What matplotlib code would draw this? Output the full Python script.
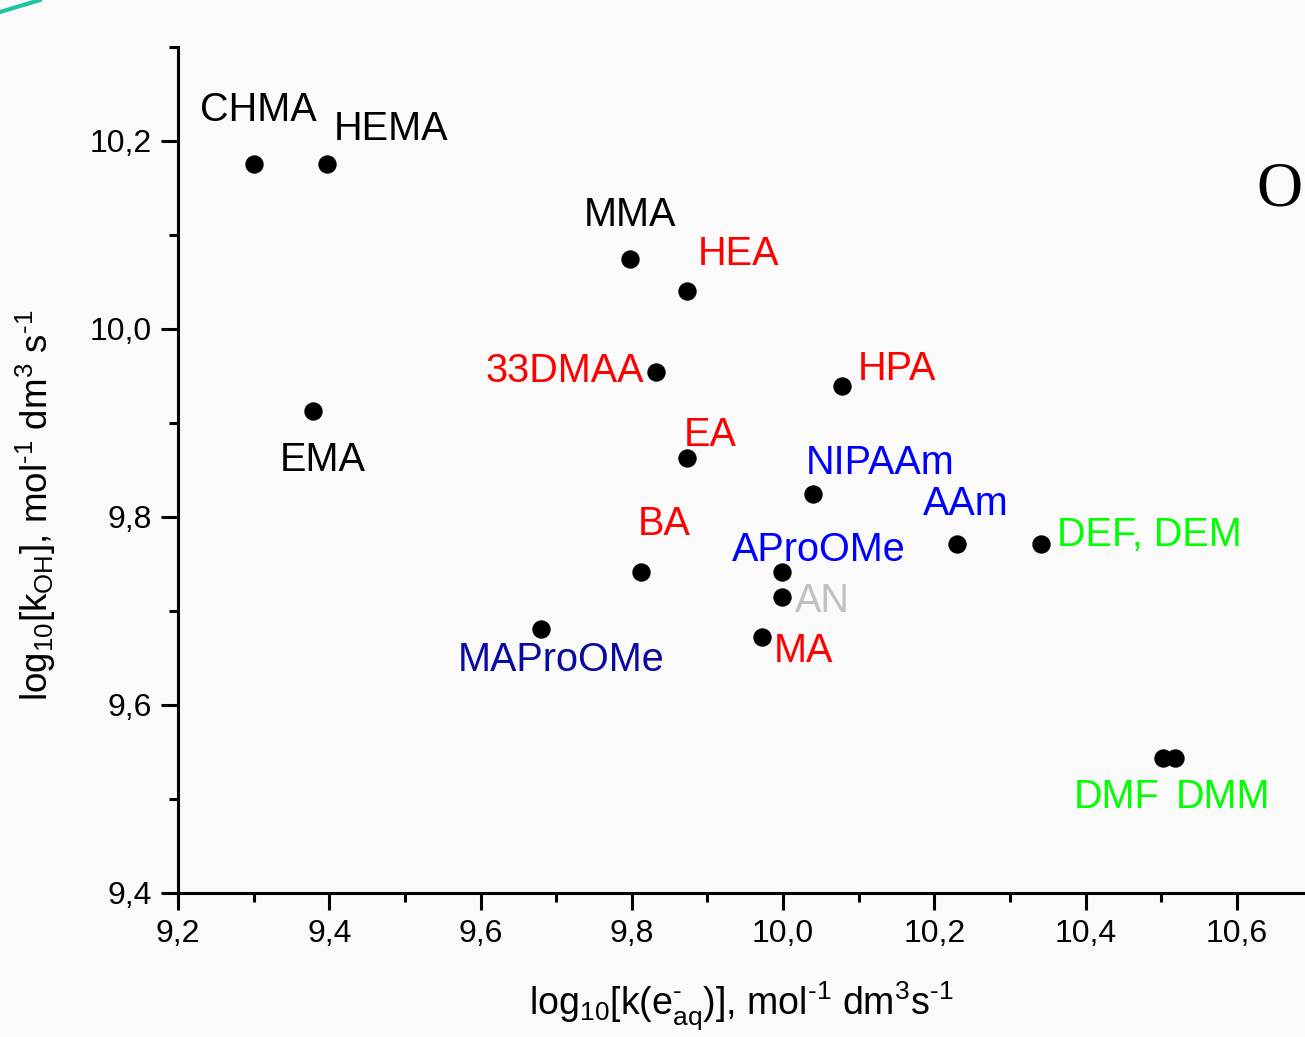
import matplotlib
matplotlib.use('Agg')
import matplotlib.pyplot as plt
from matplotlib.ticker import MultipleLocator, FuncFormatter
from matplotlib.lines import Line2D

plt.rcParams['font.family'] = ['Liberation Sans', 'DejaVu Sans']
plt.rcParams['mathtext.fontset'] = 'custom'
plt.rcParams['mathtext.rm'] = 'Liberation Sans'
plt.rcParams['mathtext.it'] = 'Liberation Sans'
plt.rcParams['mathtext.default'] = 'rm'

# log10 k(e_aq-) and log10 k_OH for each monomer
names = ['CHMA', 'HEMA', 'EMA', 'MMA', 'HEA', '33DMAA', 'HPA', 'EA', 'NIPAAm',
         'BA', 'AProOMe', 'AN', 'MA', 'MAProOMe', 'AAm', 'DEF, DEM', 'DMF', 'DMM']
log_k_eaq = [9.300, 9.397, 9.378, 9.798, 9.873, 9.832, 10.078, 9.873, 10.039,
             9.812, 9.999, 9.999, 9.972, 9.680, 10.230, 10.341, 10.502, 10.518]
log_k_oh = [10.176, 10.176, 9.913, 10.075, 10.040, 9.954, 9.939, 9.863, 9.825,
            9.741, 9.741, 9.715, 9.672, 9.681, 9.771, 9.771, 9.544, 9.544]

# label colour, offset from point in pixels (dx, baseline dy), alignment
colors = ['black', 'black', 'black', 'black', 'red', 'red', 'red', 'red', 'blue',
          'red', 'blue', '#c0c0c0', 'red', '#0a0aa0', 'blue', '#00ff00', '#00ff00', '#00ff00']
offsets = [(-54, -43), (7, -24), (-33, 60), (-47, -32), (11, -26), (-12, 10),
           (16, -6), (-3, -12), (-7, -20), (-3, -37), (-50, -11), (13, 15),
           (12, 25), (-83, 42), (-34, -29), (16, 2), (-89, 50), (1, 50)]
aligns = ['left'] * 5 + ['right'] + ['left'] * 12

fig = plt.figure(figsize=(13.05, 10.37), dpi=100, facecolor='#fafafa')
ax = fig.add_axes([178 / 1305, 1 - 893 / 1037, 1127 / 1305, 846 / 1037])
ax.set_facecolor('none')

ax.scatter(log_k_eaq, log_k_oh, s=175, color='black', zorder=3, linewidths=0)

px2pt = 72 / 100
for x, y, lab, c, off, ha in zip(log_k_eaq, log_k_oh, names, colors, offsets, aligns):
    ax.annotate(lab, (x, y), xytext=(off[0] * px2pt, -off[1] * px2pt),
                textcoords='offset points', ha=ha, va='baseline',
                fontsize=28.5, color=c)

ax.set_xlim(9.2, 9.2 + 1127 / 756.4)
ax.set_ylim(9.4, 10.3)
ax.xaxis.set_major_locator(MultipleLocator(0.2))
ax.xaxis.set_minor_locator(MultipleLocator(0.1))
ax.yaxis.set_major_locator(MultipleLocator(0.2))
ax.yaxis.set_minor_locator(MultipleLocator(0.1))
fmt = FuncFormatter(lambda v, p: f'{v:.1f}'.replace('.', ','))
ax.xaxis.set_major_formatter(fmt)
ax.yaxis.set_major_formatter(fmt)

for side in ['top', 'right']:
    ax.spines[side].set_visible(False)
for side in ['left', 'bottom']:
    ax.spines[side].set_linewidth(2.2)
ax.tick_params(which='major', direction='out', length=12, width=2.2,
               labelsize=23, pad=7)
ax.tick_params(which='minor', direction='out', length=6.5, width=2.2)

ax.set_xlabel('log$_{10}$[k(e$_{aq}^{\u2010}$)], mol$^{\u20101}$ dm$^{3}$s$^{\u20101}$',
              fontsize=27, labelpad=22)
ax.set_ylabel('log$_{10}$[k$_{OH}$], mol$^{\u20101}$ dm$^{3}$ s$^{\u20101}$',
              fontsize=26.5)
ax.yaxis.set_label_coords((58 - 178) / 1127, (893 - 505) / 846)

# cropped letter and slide decoration
fig.text(1256 / 1305, 1 - 191 / 1037, 'O', family='Liberation Serif',
         fontsize=46, va='center', ha='left')
fig.add_artist(Line2D([0, 40 / 1305], [1 - 12 / 1037, 1.0],
                      color='#22c4a0', linewidth=3, transform=fig.transFigure))

fig.savefig('out.png', dpi=100, facecolor=fig.get_facecolor())
